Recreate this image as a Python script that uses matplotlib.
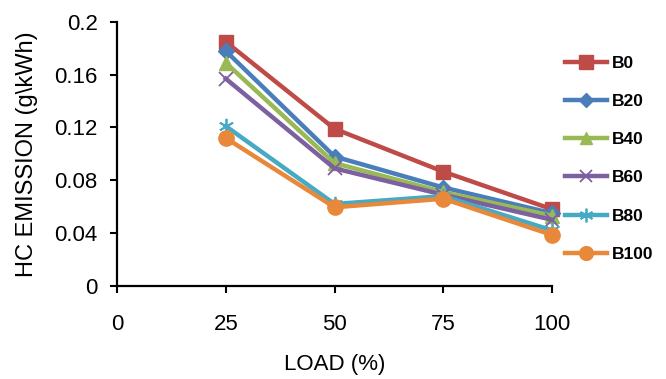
import matplotlib
matplotlib.use("Agg")
import matplotlib.pyplot as plt

plt.rcParams['font.family'] = ['Liberation Sans', 'DejaVu Sans']

load = [25, 50, 75, 100]
b0 = [0.185, 0.119, 0.0865, 0.058]
b20 = [0.178, 0.098, 0.0745, 0.055]
b40 = [0.169, 0.093, 0.071, 0.053]
b60 = [0.157, 0.089, 0.069, 0.050]
b80 = [0.121, 0.062, 0.068, 0.042]
b100 = [0.112, 0.0595, 0.066, 0.0385]

series = [
    ("B0", b0, "#BE4B48", "s", 10.5),
    ("B20", b20, "#4A7EBB", "D", 8),
    ("B40", b40, "#98B954", "^", 10),
    ("B60", b60, "#7D60A0", "x", 10),
    ("B80", b80, "#46AAC5", (6, 2, 0), 11),
    ("B100", b100, "#E8883A", "o", 11),
]

fig = plt.figure(figsize=(6.66, 3.79), dpi=100)
ax = fig.add_axes([0.1757, 0.246, 0.6533, 0.696])

for name, vals, color, marker, ms in series:
    ln, = ax.plot(load, vals, color=color, lw=3.2, marker=marker, ms=ms,
                  mec=color, mfc=color, label=name, clip_on=False)
    if name in ("B60", "B80"):
        ln.set_markeredgewidth(1.3)

ax.set_xlim(0, 100)
ax.set_ylim(0, 0.2)
ax.set_xticks([0, 25, 50, 75, 100])
ax.set_xticklabels(["0", "25", "50", "75", "100"])
ax.set_yticks([0, 0.04, 0.08, 0.12, 0.16, 0.2])
ax.set_yticklabels(["0", "0.04", "0.08", "0.12", "0.16", "0.2"])
ax.tick_params(axis='both', labelsize=16, colors='black', width=1.5,
               length=5, direction='out')
ax.tick_params(axis='x', pad=15)
ax.tick_params(axis='y', pad=9)
for side in ('top', 'right'):
    ax.spines[side].set_visible(False)
for side in ('left', 'bottom'):
    ax.spines[side].set_linewidth(1.6)

ax.set_xlabel("LOAD (%)", fontsize=16, va='center')
ax.set_ylabel("HC EMISSION (g\\kWh)", fontsize=17, va='center')
ax.xaxis.set_label_coords(0.5, -0.30)
ax.yaxis.set_label_coords(-0.207, 0.5)

fig.legend(loc='upper left', bbox_to_anchor=(0.838, 0.872),
           frameon=False, prop={'weight': 'bold', 'size': 12.5},
           labelspacing=1.33, handlelength=2.4, handletextpad=0.3,
           borderaxespad=0, markerscale=0.9)

fig.savefig("out.png", dpi=100)
